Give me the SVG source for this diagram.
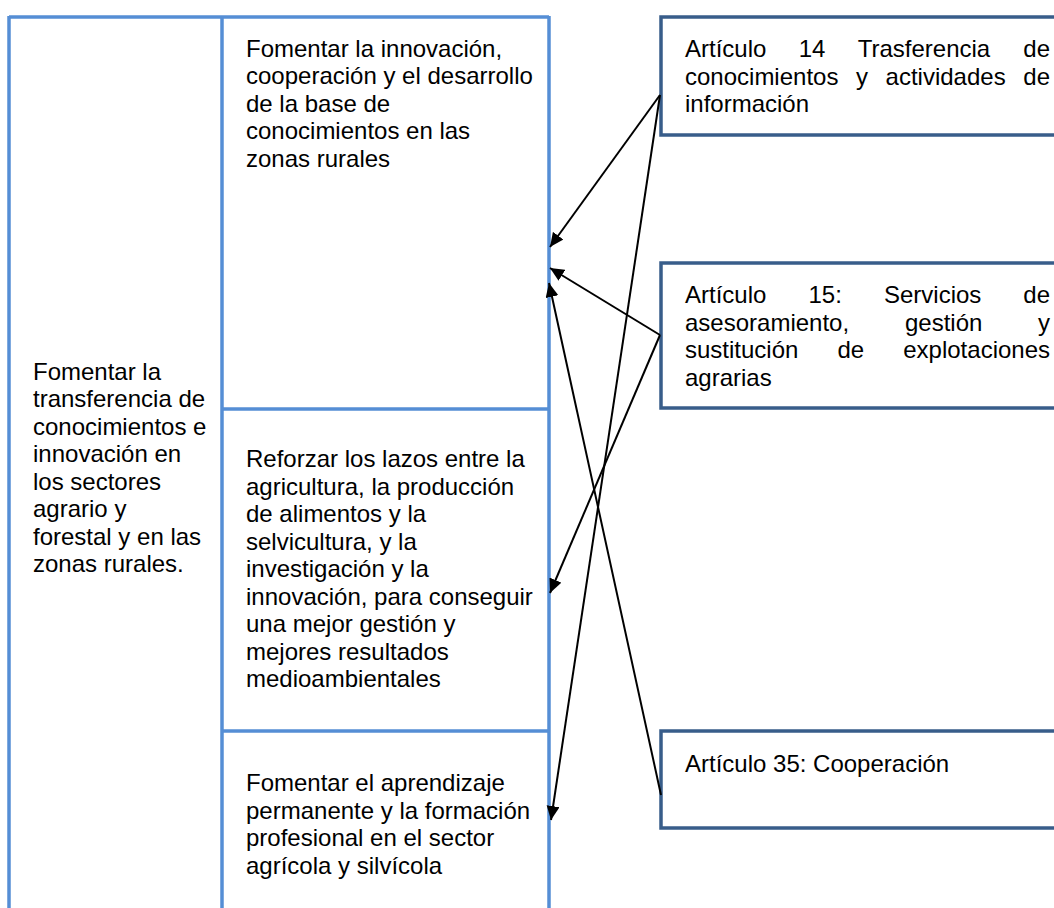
<svg xmlns="http://www.w3.org/2000/svg" width="1054" height="908" viewBox="0 0 1054 908">
<style>
text{font-family:"Liberation Sans",Arial,sans-serif;font-size:24px;fill:#000}
.tb{stroke:#558ED5;stroke-width:3.5;fill:none}
.box{stroke:#385D8A;stroke-width:3.5;fill:#fff}
.con{stroke:#000;stroke-width:2;fill:none;marker-end:url(#ah)}
.e{text-anchor:end}
</style>
<defs>
<marker id="ah" markerUnits="userSpaceOnUse" markerWidth="16" markerHeight="14" refX="14" refY="6.5" orient="auto">
<path d="M0,0 L14,6.5 L0,13 z" fill="#000"/>
</marker>
</defs>
<rect width="1054" height="908" fill="#fff"/>
<g id="table">
<path class="tb" d="M9,17 H549 M9,16 V908 M222,16 V908 M549,16 V908 M222,409 H549 M222,731 H549"/>
</g>
<g id="objetivo">
<text x="33" y="379.5">Fomentar la</text>
<text x="33" y="407">transferencia de</text>
<text x="33" y="434.5">conocimientos e</text>
<text x="33" y="462">innovación en</text>
<text x="33" y="489.5">los sectores</text>
<text x="33" y="517">agrario y</text>
<text x="33" y="544.5">forestal y en las</text>
<text x="33" y="572">zonas rurales.</text>
</g>
<g id="focus1">
<text x="246" y="56.5">Fomentar la innovación,</text>
<text x="246" y="84">cooperación y el desarrollo</text>
<text x="246" y="111.5">de la base de</text>
<text x="246" y="139">conocimientos en las</text>
<text x="246" y="166.5">zonas rurales</text>
</g>
<g id="focus2">
<text x="246" y="467">Reforzar los lazos entre la</text>
<text x="246" y="494.5">agricultura, la producción</text>
<text x="246" y="522">de alimentos y la</text>
<text x="246" y="549.5">selvicultura, y la</text>
<text x="246" y="577">investigación y la</text>
<text x="246" y="604.5">innovación, para conseguir</text>
<text x="246" y="632">una mejor gestión y</text>
<text x="246" y="659.5">mejores resultados</text>
<text x="246" y="687">medioambientales</text>
</g>
<g id="focus3">
<text x="246" y="791">Fomentar el aprendizaje</text>
<text x="246" y="818.5">permanente y la formación</text>
<text x="246" y="846">profesional en el sector</text>
<text x="246" y="873.5">agrícola y silvícola</text>
</g>
<g id="art14">
<rect class="box" x="661" y="17" width="420" height="118"/>
<text y="57"><tspan x="685">Artículo</tspan> <tspan x="798.7">14</tspan> <tspan x="857.7">Trasferencia</tspan> <tspan x="1050" class="e">de</tspan></text>
<text y="84.5"><tspan x="685">conocimientos</tspan> <tspan x="856">y</tspan> <tspan x="885.6">actividades</tspan> <tspan x="1050" class="e">de</tspan></text>
<text x="685" y="112">información</text>
</g>
<g id="art15">
<rect class="box" x="661" y="263" width="420" height="145"/>
<text y="303"><tspan x="685">Artículo</tspan> <tspan x="808.5">15:</tspan> <tspan x="884">Servicios</tspan> <tspan x="1050" class="e">de</tspan></text>
<text y="330.5"><tspan x="685">asesoramiento,</tspan> <tspan x="905">gestión</tspan> <tspan x="1050" class="e">y</tspan></text>
<text y="358"><tspan x="685">sustitución</tspan> <tspan x="837.5">de</tspan> <tspan x="1050" class="e">explotaciones</tspan></text>
<text x="685" y="385.5">agrarias</text>
</g>
<g id="art35">
<rect class="box" x="661" y="731" width="420" height="97"/>
<text x="685" y="772">Artículo 35: Cooperación</text>
</g>
<g id="connectors">
<line class="con" x1="660" y1="95" x2="550" y2="247"/>
<line class="con" x1="660" y1="95" x2="551" y2="820"/>
<line class="con" x1="660" y1="335" x2="550" y2="268"/>
<line class="con" x1="660" y1="335" x2="550" y2="593"/>
<line class="con" x1="661" y1="795" x2="549" y2="283"/>
</g>
</svg>
